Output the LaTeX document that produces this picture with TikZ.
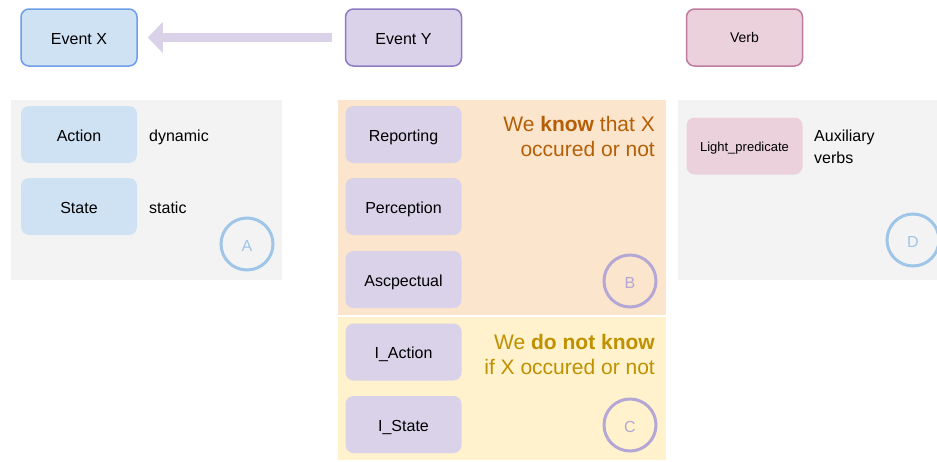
\documentclass[tikz,border=0pt]{standalone}
\usepackage{fontspec}
\setmainfont{Liberation Sans}
\usetikzlibrary{arrows.meta}
\definecolor{bluefill}{HTML}{CFE2F3}
\definecolor{blueline}{HTML}{6D9EEB}
\definecolor{purpfill}{HTML}{D9D2E9}
\definecolor{purpline}{HTML}{8E7CC3}
\definecolor{pinkfill}{HTML}{EAD1DC}
\definecolor{pinkline}{HTML}{C27BA0}
\definecolor{greypanel}{HTML}{F3F3F3}
\definecolor{orangepanel}{HTML}{FCE5CD}
\definecolor{yellowpanel}{HTML}{FFF2CC}
\definecolor{orangetext}{HTML}{B45F06}
\definecolor{yellowtext}{HTML}{BF9000}
\definecolor{circblue}{HTML}{9FC5E8}
\definecolor{circpurp}{HTML}{B4A7D6}
\definecolor{arrowcol}{HTML}{D9D2E9}
\tikzset{
  box/.style={rounded corners=8pt, minimum width=116pt, minimum height=57pt, inner sep=0pt,
    text height=13pt, text depth=0pt, font=\fontsize{16}{19}\selectfont},
  topbox/.style={box, draw, line width=1.5pt},
  smallbox/.style={text height=10.8pt, font=\fontsize{13}{16}\selectfont},
  label/.style={inner sep=0pt, text height=13pt, text depth=0pt, font=\fontsize{16}{19}\selectfont},
  tag/.style={circle, draw, line width=3pt, minimum size=52pt, inner sep=0pt,
    text height=14pt, text depth=0pt, font=\fontsize{16}{19}\selectfont},
  note/.style={inner sep=0pt, align=right, font=\fontsize{21}{25.7}\selectfont},
}
\begin{document}
\begin{tikzpicture}[x=1pt,y=-1pt]
\clip (0,0) rectangle (937,461);
\fill[white] (0,0) rectangle (937,461);
% panels
\fill[greypanel] (11,100) rectangle (282,280);
\fill[orangepanel] (338,100) rectangle (666,315);
\fill[yellowpanel] (338,317) rectangle (666,460);
\fill[greypanel] (678,100) rectangle (937,280);
% top row
\node[topbox, fill=bluefill, draw=blueline] (EX) at (79,37.5) {Event X};
\node[topbox, fill=purpfill, draw=purpline] (EY) at (403.5,37.5) {Event Y};
\node[topbox, smallbox, fill=pinkfill, draw=pinkline, text height=10.4pt, font=\fontsize{14}{17}\selectfont] (VB) at (744.5,37.5) {Verb};
\draw[arrowcol, line width=9pt, shorten <=13pt, shorten >=10pt,
  -{Triangle[width=30pt,length=15pt]}] (EY.west) -- (EX.east);
% panel A
\node[box, fill=bluefill] (ACT) at (79,134.5) {Action};
\node[box, fill=bluefill] (STA) at (79,206.5) {State};
\node[label, anchor=west] (DYN) at (149,134.5) {dynamic};
\node[label, anchor=west] (STC) at (149,206.5) {static};
\node[tag, draw=circblue, text=circblue] (TA) at (247,244) {A};
% panel B
\node[box, fill=purpfill] (REP) at (403.5,134.5) {Reporting};
\node[box, fill=purpfill] (PER) at (403.5,206.5) {Perception};
\node[box, fill=purpfill] (ASP) at (403.5,279.5) {Ascpectual};
\node[note, text=orangetext, anchor=north east] (KN) at (655,115.7) {We \textbf{know} that X\\occured or not};
\node[tag, draw=circpurp, text=circpurp] (TB) at (630,281) {B};
% panel C
\node[box, fill=purpfill] (IAC) at (403.5,352) {I\_Action};
\node[box, fill=purpfill] (IST) at (403.5,424.5) {I\_State};
\node[note, text=yellowtext, anchor=north east] (NK) at (655,333.7) {We \textbf{do not know}\\if X occured or not};
\node[tag, draw=circpurp, text=circpurp] (TC) at (630,425) {C};
% panel D
\node[box, smallbox, fill=pinkfill] (LP) at (744.5,146) {Light\_predicate};
\node[inner sep=0pt, anchor=north west, align=left, font=\fontsize{16}{21.6}\selectfont] (AUX) at (814,130) {Auxiliary\\verbs};
\node[tag, draw=circblue, text=circblue] (TD) at (913,240) {D};
\end{tikzpicture}
\end{document}
